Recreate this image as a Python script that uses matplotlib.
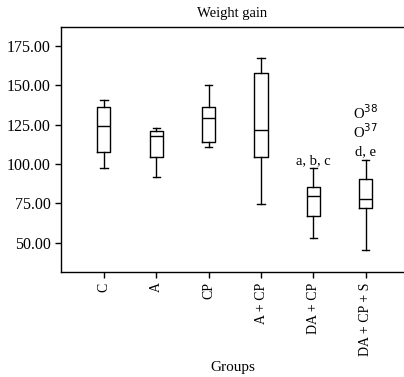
import matplotlib
matplotlib.use("Agg")
import matplotlib.pyplot as plt

groups = ["C", "A", "CP", "A + CP", "DA + CP", "DA + CP + S"]
whisker_low = [97.2, 91.7, 110.5, 74.6, 53.0, 45.6]
q1 = [107.4, 104.4, 114.0, 104.4, 66.8, 72.1]
medians = [124.4, 117.5, 128.9, 121.5, 79.7, 78.0]
q3 = [136.4, 120.7, 136.4, 157.7, 85.4, 90.5]
whisker_high = [140.6, 123.0, 150.1, 167.2, 97.2, 102.7]
outlier_group = [6, 6]
outlier_values = [132.5, 120.5]
outlier_ids = ["38", "37"]
annot_group = [5, 6]
annot_text = ["a, b, c", "d, e"]
annot_values = [102.3, 107.6]
yticks = [50, 75, 100, 125, 150, 175]

plt.rcParams['font.family'] = ['Liberation Serif', 'DejaVu Serif']
fig = plt.figure(figsize=(4.04, 3.77), dpi=100)
ax = fig.add_axes([0.151, 0.2785, 0.849, 0.65])

stats = []
for i, g in enumerate(groups):
    stats.append(dict(label=g, whislo=whisker_low[i], q1=q1[i], med=medians[i],
                      q3=q3[i], whishi=whisker_high[i], fliers=[]))
lp = dict(color='black', linewidth=1.0)
ax.bxp(stats, positions=range(1, 7), widths=0.25, capwidths=0.14,
       showfliers=False, boxprops=lp, medianprops=lp, whiskerprops=lp, capprops=lp)

for g, v, t in zip(outlier_group, outlier_values, outlier_ids):
    ax.text(g, v, "O$^{" + t + "}$", ha='center', va='center', fontsize=10.5)
for g, t, v in zip(annot_group, annot_text, annot_values):
    ax.text(g, v, t, ha='center', va='center', fontsize=10.5)

ax.set_xlim(0.18, 6.73)
ax.set_ylim(31.4, 187)
ax.set_yticks(yticks)
ax.set_yticklabels([f"{v:.2f}" for v in yticks], fontsize=11.5)
ax.set_xticks(range(1, 7))
ax.set_xticklabels(groups, rotation=90, fontsize=10)
ax.tick_params(axis='both', length=4, width=1.0, direction='out')
ax.spines['right'].set_visible(False)
for s in ['left', 'bottom', 'top']:
    ax.spines[s].set_linewidth(1.0)
ax.set_title("Weight gain", fontsize=10.5, pad=7)
ax.set_xlabel("Groups", fontsize=11, labelpad=4)
fig.savefig("out.png", dpi=100)
